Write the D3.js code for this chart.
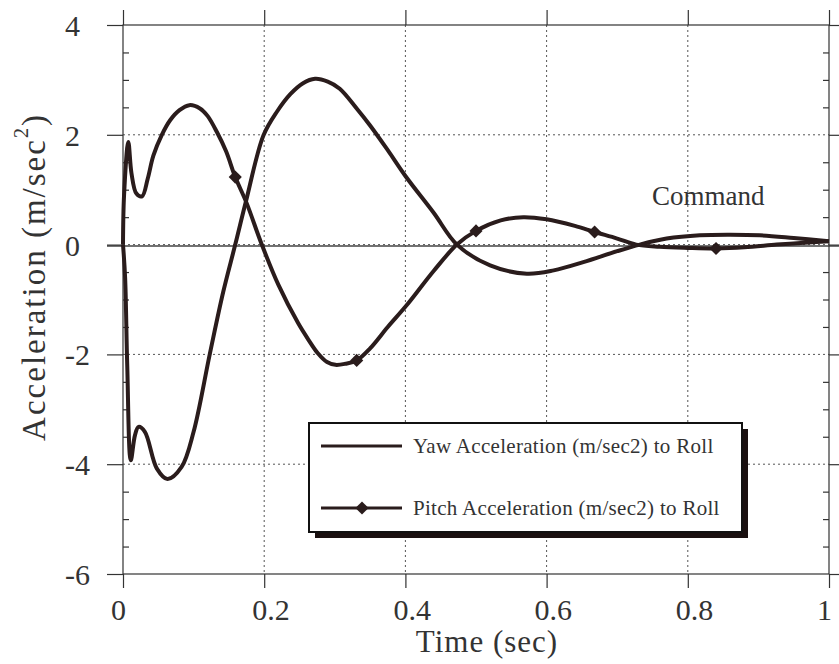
<!DOCTYPE html>
<html>
<head>
<meta charset="utf-8">
<script src="https://cdn.jsdelivr.net/npm/d3@7.9.0/dist/d3.min.js"></script>
<style>
  body { margin: 0; background: #fff; }
  svg text { font-family: 'Liberation Serif', 'Times New Roman', Times, 'DejaVu Serif', serif; }
</style>
</head>
<body>
<svg width="839" height="664"></svg>
<script>
// data
const xTicks = [0, 0.2, 0.4, 0.6, 0.8, 1];
const xTickLabels = ['0', '0.2', '0.4', '0.6', '0.8', '1'];
const yTicks = [-6, -4, -2, 0, 2, 4];
const yTickLabels = ['-6', '-4', '-2', '0', '2', '4'];
const yMinor = [-5.5, -5, -4.5, -3.5, -3, -2.5, -1.5, -1, -0.5, 0.5, 1, 1.5, 2.5, 3, 3.5];

const pitchTime = [0, 0.0015, 0.0075, 0.012, 0.019, 0.027, 0.035, 0.043, 0.055, 0.067, 0.08, 0.094,
  0.109, 0.12, 0.133, 0.146, 0.159, 0.175, 0.196, 0.22, 0.248, 0.262, 0.276, 0.289, 0.301, 0.315,
  0.331, 0.35, 0.375, 0.402, 0.44, 0.473, 0.5, 0.535, 0.567, 0.6, 0.64, 0.668, 0.70, 0.727, 0.76,
  0.80, 0.84, 0.88, 0.926, 0.96, 1.0];
const pitchAccel = [0, 0.9, 1.87, 1.3, 0.93, 0.88, 1.2, 1.62, 2.0, 2.27, 2.45, 2.54,
  2.48, 2.34, 2.05, 1.7, 1.23, 0.76, 0.02, -0.73, -1.43, -1.72, -1.98, -2.14, -2.19, -2.17,
  -2.11, -1.89, -1.5, -1.1, -0.48, 0, 0.25, 0.44, 0.5, 0.46, 0.34, 0.23, 0.11, 0.0, -0.04,
  -0.06, -0.07, -0.05, 0, 0.03, 0.06];
const pitchMarkerTimes = [0.159, 0.331, 0.5, 0.668, 0.84];

const yawTime = [0, 0.003, 0.006, 0.011, 0.017, 0.022, 0.031, 0.048, 0.063, 0.083, 0.10, 0.123,
  0.142, 0.159, 0.174, 0.199, 0.218, 0.237, 0.255, 0.272, 0.29, 0.307, 0.331, 0.35, 0.375, 0.40,
  0.44, 0.473, 0.52, 0.572, 0.61, 0.652, 0.70, 0.732, 0.77, 0.817, 0.86, 0.902, 0.95, 1.0];
const yawAccel = [0, -0.6, -2.2, -3.93, -3.47, -3.32, -3.41, -4.08, -4.27, -4.05, -3.41, -1.99,
  -0.86, 0, 0.78, 1.99, 2.42, 2.74, 2.94, 3.02, 2.97, 2.84, 2.48, 2.17, 1.72, 1.25,
  0.58, 0, -0.38, -0.53, -0.47, -0.32, -0.12, 0, 0.11, 0.17, 0.18, 0.17, 0.12, 0.06];

const legendLabels = ['Yaw Acceleration (m/sec2) to Roll', 'Pitch Acceleration (m/sec2) to Roll'];

const ink = '#2a1c1c';
const textInk = '#333';

const svg = d3.select('svg');
const x = d3.scaleLinear().domain([0, 1]).range([123, 829]);
const y = d3.scaleLinear().domain([-6, 4]).range([574, 25]);

// dotted grid
svg.append('g').selectAll('line')
  .data(xTicks.slice(1, -1))
  .join('line')
  .attr('x1', d => x(d)).attr('x2', d => x(d))
  .attr('y1', y(4)).attr('y2', y(-6))
  .attr('stroke', '#555').attr('stroke-width', 1).attr('stroke-dasharray', '2,3');
svg.append('g').selectAll('line')
  .data(yTicks.slice(1, -1))
  .join('line')
  .attr('x1', x(0)).attr('x2', x(1))
  .attr('y1', d => y(d)).attr('y2', d => y(d))
  .attr('stroke', '#555').attr('stroke-width', 1).attr('stroke-dasharray', '2,3');

// solid zero line
svg.append('line')
  .attr('x1', 107).attr('x2', 839)
  .attr('y1', y(0) + 1.5).attr('y2', y(0) + 1.5)
  .attr('stroke', '#444').attr('stroke-width', 1.5);

// axes: major ticks point out, minor ticks point in
function styleAxis(g) {
  g.select('.domain').remove();
  g.selectAll('line').attr('stroke', '#333').attr('stroke-width', 1.2);
  g.selectAll('text').remove();
}
svg.append('g').attr('transform', `translate(0,${y(-6)})`)
  .call(d3.axisBottom(x).tickValues(xTicks).tickSize(14)).call(styleAxis);
svg.append('g').attr('transform', `translate(0,${y(4)})`)
  .call(d3.axisTop(x).tickValues(xTicks).tickSize(15)).call(styleAxis);
svg.append('g').attr('transform', `translate(${x(0)},0)`)
  .call(d3.axisLeft(y).tickValues(yTicks).tickSize(16)).call(styleAxis);
svg.append('g').attr('transform', `translate(${x(0)},0)`)
  .call(d3.axisLeft(y).tickValues(yMinor).tickSize(-6)).call(styleAxis);
svg.append('g').attr('transform', `translate(${x(1)},0)`)
  .call(d3.axisRight(y).tickValues(yTicks).tickSize(12)).call(styleAxis);
svg.append('g').attr('transform', `translate(${x(1)},0)`)
  .call(d3.axisRight(y).tickValues(yMinor).tickSize(-6)).call(styleAxis);

// frame
svg.append('rect')
  .attr('x', x(0)).attr('y', y(4))
  .attr('width', x(1) - x(0)).attr('height', y(-6) - y(4))
  .attr('fill', 'none').attr('stroke', '#333').attr('stroke-width', 1.2);

// tick labels (left aligned, as in the original)
svg.append('g').selectAll('text')
  .data(xTicks)
  .join('text')
  .attr('x', d => x(d) - 12).attr('y', 620)
  .attr('font-size', 30).attr('fill', textInk)
  .text((d, i) => xTickLabels[i]);
svg.append('g').selectAll('text')
  .data(yTicks)
  .join('text')
  .attr('x', 65).attr('y', d => y(d) + 11)
  .attr('font-size', 30).attr('fill', textInk)
  .text((d, i) => yTickLabels[i]);

// axis titles
svg.append('text')
  .attr('x', 487).attr('y', 652)
  .attr('text-anchor', 'middle')
  .attr('font-size', 31).attr('letter-spacing', 1).attr('fill', textInk)
  .text('Time (sec)');

const yTitle = svg.append('text')
  .attr('transform', 'translate(45,277) rotate(-90)')
  .attr('text-anchor', 'middle')
  .attr('font-size', 33).attr('letter-spacing', 2).attr('fill', textInk);
yTitle.append('tspan').text('Acceleration (m/sec');
yTitle.append('tspan').attr('font-size', 20).attr('dy', -17).text('2');
yTitle.append('tspan').attr('dy', 17).text(')');

svg.append('text')
  .attr('x', 652).attr('y', 205)
  .attr('font-size', 27).attr('fill', textInk)
  .text('Command');

// curves
const line = d3.line()
  .x(d => x(d[0]))
  .y(d => y(d[1]))
  .curve(d3.curveCatmullRom.alpha(0.5));

const pitch = d3.zip(pitchTime, pitchAccel);
const yaw = d3.zip(yawTime, yawAccel);

svg.append('path')
  .attr('d', line(yaw))
  .attr('fill', 'none').attr('stroke', ink).attr('stroke-width', 4)
  .attr('stroke-linejoin', 'round');
svg.append('path')
  .attr('d', line(pitch))
  .attr('fill', 'none').attr('stroke', ink).attr('stroke-width', 4)
  .attr('stroke-linejoin', 'round');

const diamond = d3.symbol().type(d3.symbolDiamond2).size(110);
svg.append('g').selectAll('path')
  .data(pitch.filter(d => pitchMarkerTimes.includes(d[0])))
  .join('path')
  .attr('transform', d => `translate(${x(d[0])},${y(d[1])})`)
  .attr('d', diamond)
  .attr('fill', ink);

// legend
const lg = svg.append('g');
lg.append('rect')
  .attr('x', 315).attr('y', 429).attr('width', 433).attr('height', 109)
  .attr('fill', '#1a1010');
lg.append('rect')
  .attr('x', 309).attr('y', 423).attr('width', 433).attr('height', 109)
  .attr('fill', '#fff').attr('stroke', '#111').attr('stroke-width', 2);

const rows = [446, 508];
lg.selectAll('line.sample')
  .data(legendLabels)
  .join('line')
  .attr('x1', 321).attr('x2', 402)
  .attr('y1', (d, i) => rows[i]).attr('y2', (d, i) => rows[i])
  .attr('stroke', ink).attr('stroke-width', 3);
lg.append('path')
  .attr('transform', `translate(362,${rows[1]})`)
  .attr('d', diamond)
  .attr('fill', ink);
lg.selectAll('text')
  .data(legendLabels)
  .join('text')
  .attr('x', 413).attr('y', (d, i) => rows[i] + 7)
  .attr('font-size', 21).attr('letter-spacing', 0.3).attr('fill', textInk)
  .text(d => d);
</script>
</body>
</html>
